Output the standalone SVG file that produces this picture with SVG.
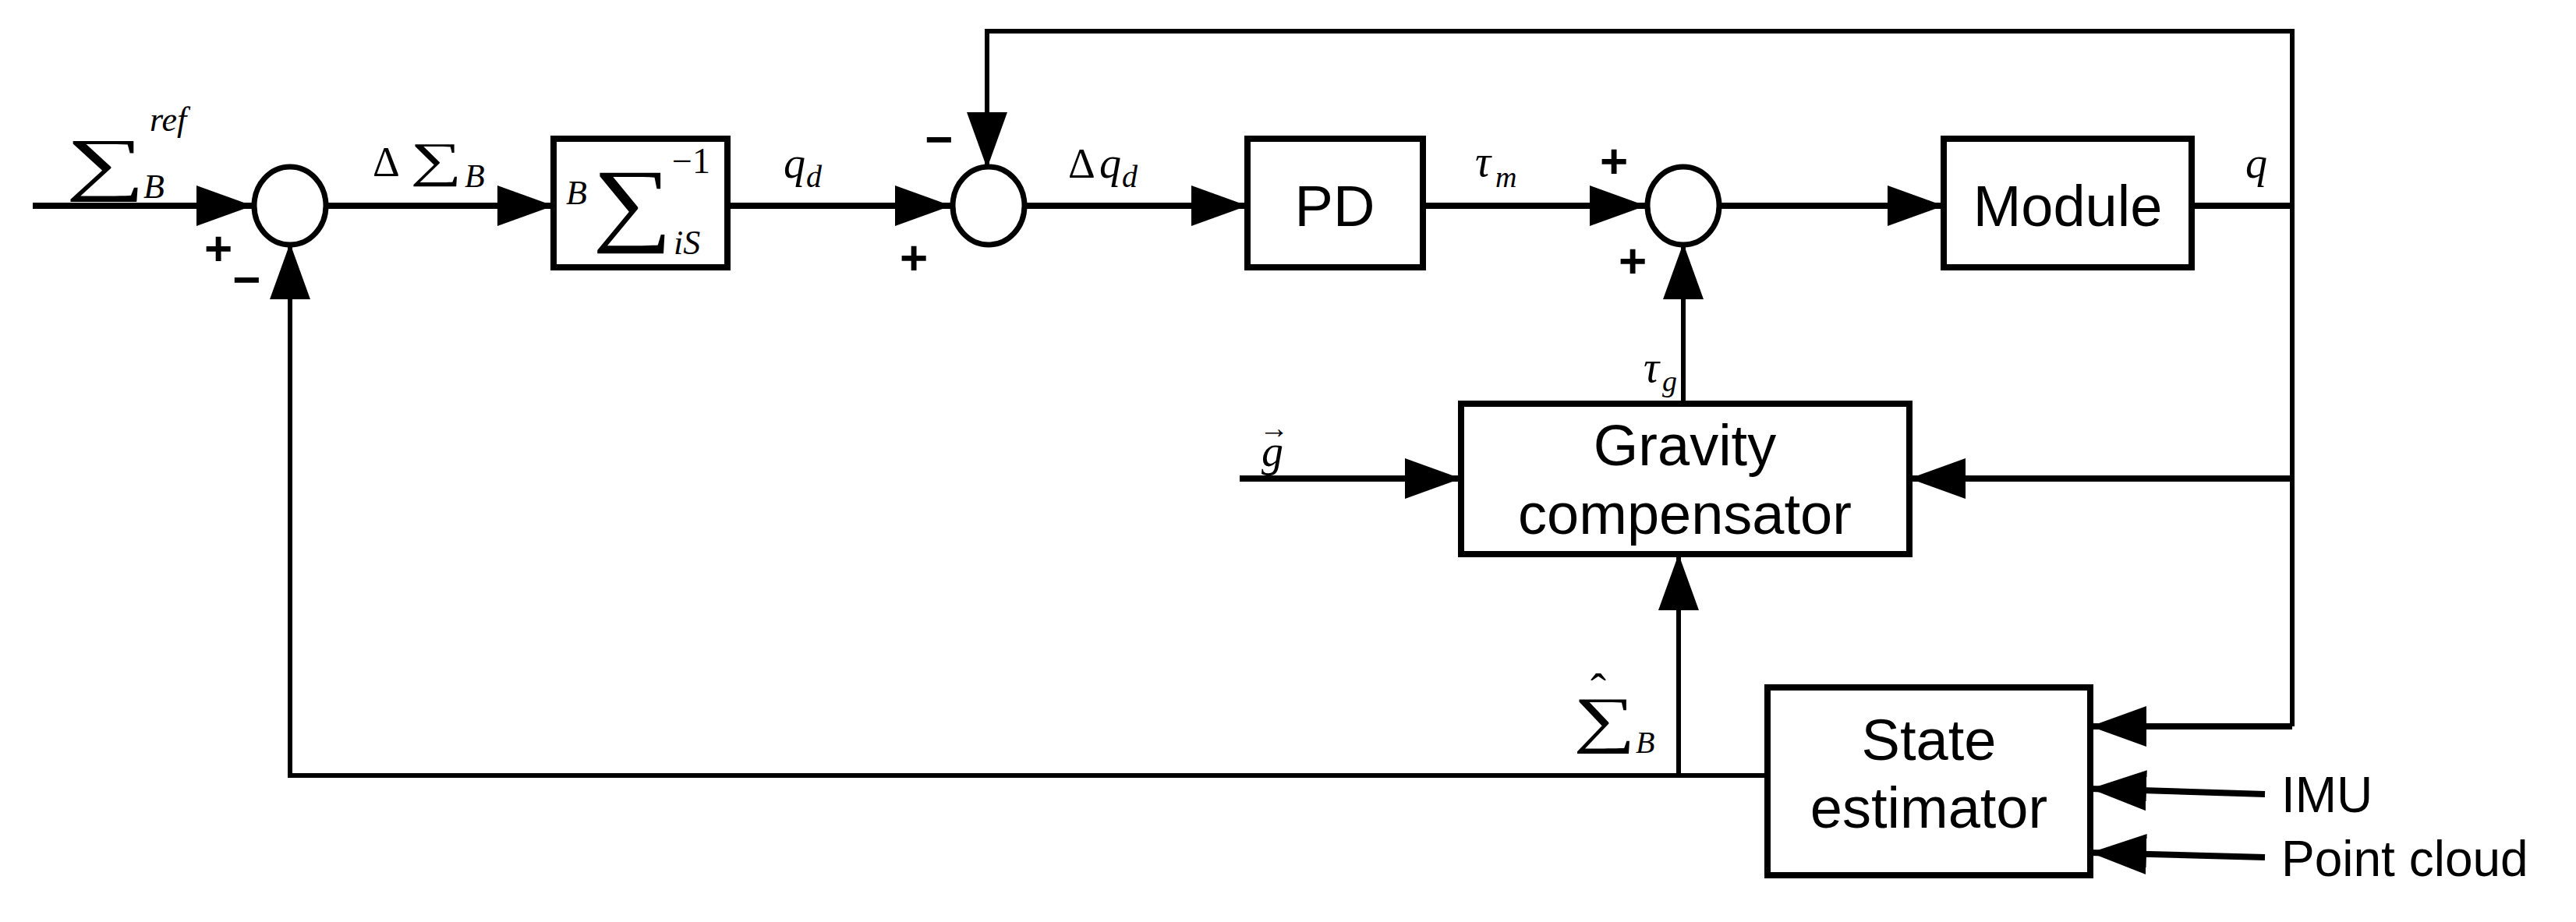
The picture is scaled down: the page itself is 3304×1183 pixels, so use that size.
<svg xmlns="http://www.w3.org/2000/svg" width="3304" height="1183" viewBox="0 0 3304 1183">
<style>
.ln{stroke:#000;stroke-width:8;fill:none}
.fb{stroke:#000;stroke-width:6;fill:none}
.bx{stroke:#000;stroke-width:8;fill:#fff}
.sum{stroke:#000;stroke-width:7;fill:#fff}
.t{font-family:"Liberation Sans",Arial,sans-serif;font-size:74px;text-anchor:middle}
.s{font-family:"Liberation Sans",Arial,sans-serif;font-size:64px}
.pm{font-family:"Liberation Sans",Arial,sans-serif;font-size:62px;font-weight:bold}
.m{font-family:"Liberation Serif","Times New Roman",serif;font-style:italic}
.g{font-family:"Liberation Serif","Times New Roman",serif}
</style>
<defs>
<marker id="ah" markerUnits="userSpaceOnUse" markerWidth="72" markerHeight="52" refX="72" refY="26" orient="auto"><path d="M0,0 L72,26 L0,52 Z" fill="#000"/></marker>
</defs>
<rect width="3304" height="1183" fill="#fff"/>
<g id="connectors">
<line class="ln" x1="42" y1="264" x2="324" y2="264" marker-end="url(#ah)"/>
<line class="ln" x1="420" y1="264" x2="710" y2="264" marker-end="url(#ah)"/>
<line class="ln" x1="933" y1="264" x2="1220" y2="264" marker-end="url(#ah)"/>
<polyline class="fb" points="2940,264 2940,40 1266,40 1266,216" marker-end="url(#ah)"/>
<line class="ln" x1="1316" y1="264" x2="1600" y2="264" marker-end="url(#ah)"/>
<line class="ln" x1="1825" y1="264" x2="2111" y2="264" marker-end="url(#ah)"/>
<line class="ln" x1="2207" y1="264" x2="2493" y2="264" marker-end="url(#ah)"/>
<line class="ln" x1="2811" y1="264" x2="2940" y2="264"/>
<line class="fb" x1="2940" y1="264" x2="2940" y2="932"/>
<line class="ln" x1="2940" y1="614" x2="2449" y2="614" marker-end="url(#ah)"/>
<line class="ln" x1="2940" y1="932" x2="2681" y2="932" marker-end="url(#ah)"/>
<line class="ln" x1="1590" y1="614" x2="1874" y2="614" marker-end="url(#ah)"/>
<line class="fb" x1="2159" y1="518" x2="2159" y2="312" marker-end="url(#ah)"/>
<line class="fb" x1="2153" y1="995" x2="2153" y2="711" marker-end="url(#ah)"/>
<polyline class="fb" points="2267,995 372,995 372,312" marker-end="url(#ah)"/>
<line class="ln" x1="2905" y1="1019" x2="2681" y2="1012" marker-end="url(#ah)"/>
<line class="ln" x1="2905" y1="1100" x2="2681" y2="1094" marker-end="url(#ah)"/>
</g>
<g id="sum1"><ellipse class="sum" cx="372" cy="264" rx="46" ry="50"/>
<text class="pm" x="262" y="340">+</text><text class="pm" x="298" y="380">−</text></g>
<g id="inv"><rect class="bx" x="710" y="178" width="223" height="165"/>
<text class="m" x="726" y="262" font-size="44">B</text>
<text class="g" transform="translate(760,300) scale(1.2,1)" font-size="120">∑</text>
<text class="g" x="862" y="222" font-size="46">−1</text>
<text class="m" x="864" y="326" font-size="44">iS</text></g>
<g id="sum2"><ellipse class="sum" cx="1268" cy="264" rx="46" ry="50"/>
<text class="pm" x="1186" y="200">−</text><text class="pm" x="1154" y="352">+</text></g>
<g id="pd"><rect class="bx" x="1600" y="178" width="225" height="165"/><text class="t" x="1712" y="290">PD</text></g>
<g id="sum3"><ellipse class="sum" cx="2159" cy="264" rx="46" ry="50"/>
<text class="pm" x="2052" y="228">+</text><text class="pm" x="2076" y="356">+</text></g>
<g id="module"><rect class="bx" x="2493" y="178" width="318" height="165"/><text class="t" x="2652" y="290">Module</text></g>
<g id="gravity"><rect class="bx" x="1874" y="518" width="575" height="193"/>
<text class="t" x="2161" y="597">Gravity</text><text class="t" x="2161" y="685">compensator</text></g>
<g id="state"><rect class="bx" x="2267" y="882" width="414" height="241"/>
<text class="t" x="2474" y="975">State</text><text class="t" x="2474" y="1062">estimator</text></g>
<g id="labels">
<text class="g" transform="translate(84,240) scale(1.6,1)" font-size="90">∑</text>
<text class="m" x="192" y="168" font-size="44">ref</text>
<text class="m" x="184" y="254" font-size="44">B</text>
<text class="g" x="478" y="226" font-size="54">Δ</text>
<text class="g" transform="translate(526,226) scale(1.5,1)" font-size="62">∑</text>
<text class="m" x="596" y="240" font-size="42">B</text>
<text class="m" x="1005" y="228" font-size="56">q</text><text class="m" x="1034" y="240" font-size="40">d</text>
<text class="g" x="1370" y="228" font-size="54">Δ</text><text class="m" x="1410" y="228" font-size="56">q</text><text class="m" x="1439" y="240" font-size="40">d</text>
<text class="m" x="1892" y="226" font-size="56">τ</text><text class="m" x="1918" y="240" font-size="38">m</text>
<text class="m" x="2880" y="228" font-size="56">q</text>
<text class="m" x="2108" y="490" font-size="56">τ</text><text class="m" x="2132" y="502" font-size="38">g</text>
<text class="m" x="1618" y="598" font-size="56">g</text>
<text class="g" x="1615" y="562" font-size="38">→</text>
<text class="g" transform="translate(2018,950) scale(1.4,1)" font-size="80">∑</text>
<text class="g" x="2040" y="905" font-size="60">ˆ</text>
<text class="m" x="2098" y="966" font-size="40">B</text>
<text class="s" x="2926" y="1042">IMU</text>
<text class="s" x="2926" y="1124">Point cloud</text>
</g>
</svg>
